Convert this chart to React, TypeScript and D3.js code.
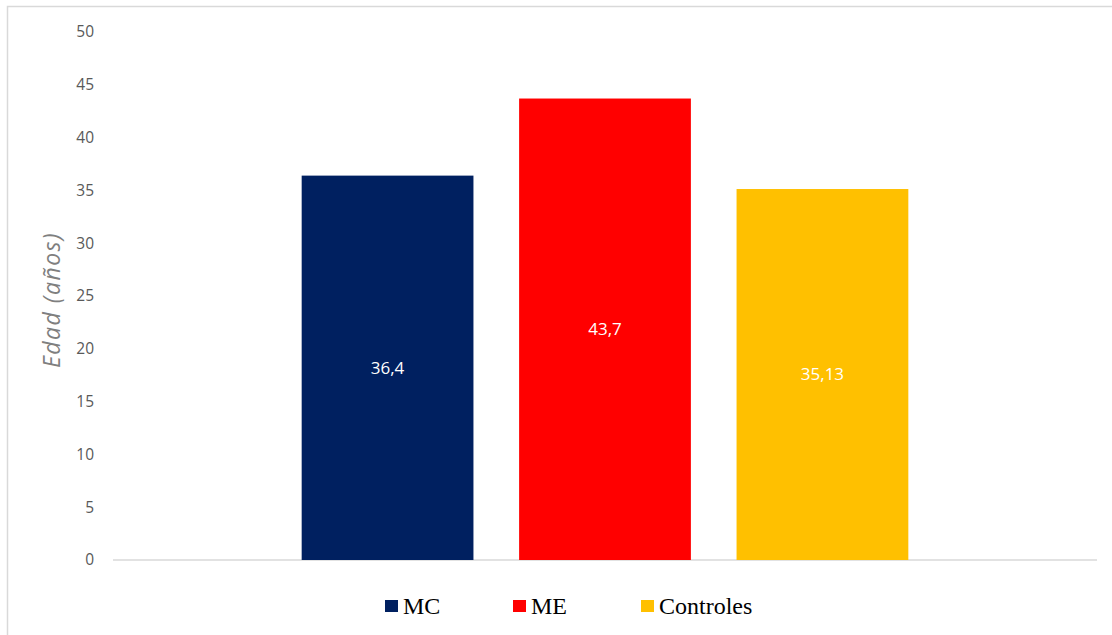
import React from "react";
import * as d3 from "d3";

const categories = ["Edad"];
const seriesNames = ["MC", "ME", "Controles"];
const seriesValues = [36.4, 43.7, 35.13];
const valueLabels = ["36,4", "43,7", "35,13"];
const seriesColors = ["#002060", "#FF0000", "#FFC000"];
const yTicks = [0, 5, 10, 15, 20, 25, 30, 35, 40, 45, 50];

const W = 1112;
const H = 635;
const plot = { left: 113, right: 1097, top: 32, bottom: 560 };

export default function App() {
  const y = d3.scaleLinear().domain([0, 50]).range([plot.bottom, plot.top]);
  const xCat = d3.scaleBand().domain(categories).range([plot.left, plot.right]).paddingInner(0).paddingOuter(0.311);
  const x = d3
    .scaleBand()
    .domain(seriesNames)
    .range([xCat(categories[0])!, xCat(categories[0])! + xCat.bandwidth()])
    .paddingInner(0.21)
    .paddingOuter(0);

  const legendX = [385, 513, 641];

  return (
    <svg width={W} height={H} style={{ position: "absolute", left: 0, top: 0, background: "#fff" }}>
      <rect x={7.5} y={6.5} width={W} height={H} fill="#fff" stroke="#d9d9d9" strokeWidth={1.5} />
      {yTicks.map((t) => (
        <text
          key={t}
          x={94}
          y={y(t)}
          dy="0.35em"
          textAnchor="end"
          fontFamily="'Open Sans', 'Noto Sans', sans-serif"
          fontSize={15.5}
          fill="#595959"
        >
          {t}
        </text>
      ))}
      <text
        transform={`translate(60, ${(plot.top + plot.bottom) / 2 + 4}) rotate(-90)`}
        textAnchor="middle"
        fontFamily="'Open Sans', 'Noto Sans', sans-serif"
        fontStyle="italic"
        fontSize={23}
        letterSpacing={1.5}
        fill="#7f7f7f"
      >
        Edad (años)
      </text>
      <line x1={plot.left} x2={plot.right} y1={y(0)} y2={y(0)} stroke="#d9d9d9" strokeWidth={1.5} />
      {seriesNames.map((s, i) => {
        const x0 = x(s)!;
        const y0 = y(seriesValues[i]);
        return (
          <g key={s}>
            <rect x={x0} y={y0} width={x.bandwidth()} height={y(0) - y0} fill={seriesColors[i]} />
            <text
              x={x0 + x.bandwidth() / 2}
              y={(y0 + y(0)) / 2}
              dy="0.35em"
              textAnchor="middle"
              fontFamily="'Open Sans', 'Noto Sans', sans-serif"
              fontSize={17}
              fill="#ffffff"
            >
              {valueLabels[i]}
            </text>
          </g>
        );
      })}
      {seriesNames.map((s, i) => (
        <g key={"lg" + s}>
          <rect x={legendX[i]} y={600} width={13} height={12} fill={seriesColors[i]} />
          <text
            x={legendX[i] + 18}
            y={614}
            fontFamily="'Liberation Serif', 'Times New Roman', serif"
            fontSize={24}
            fill="#000"
          >
            {s}
          </text>
        </g>
      ))}
    </svg>
  );
}
